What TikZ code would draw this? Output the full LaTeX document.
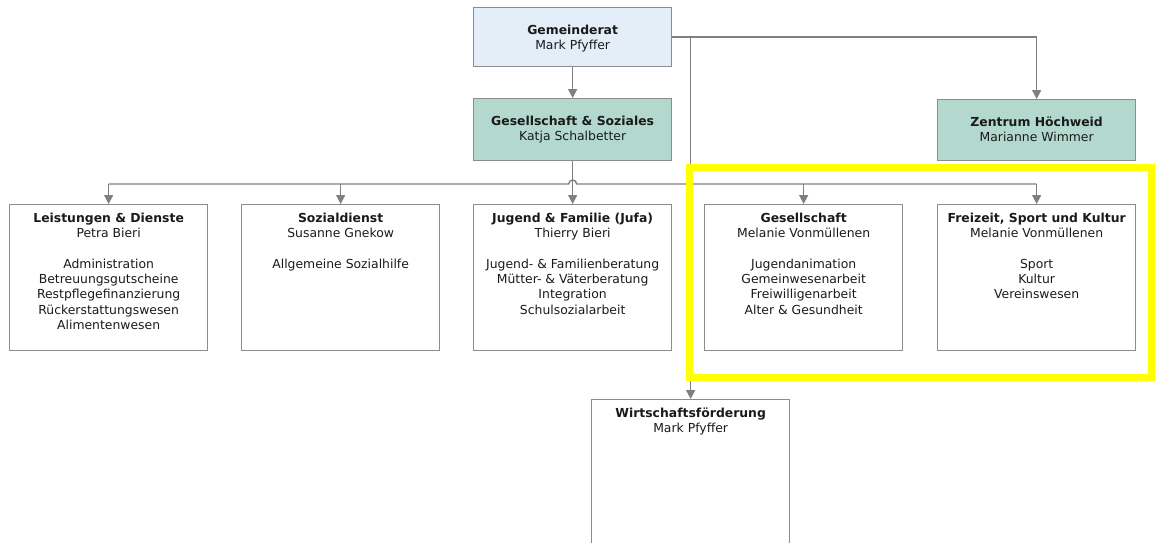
\documentclass[tikz,border=0pt]{standalone}
\usepackage{fontspec}
\setmainfont{DejaVu Sans}
\usetikzlibrary{arrows.meta}
\definecolor{lineg}{HTML}{808080}
\definecolor{boxg}{HTML}{8C8C8C}
\definecolor{bluef}{HTML}{E3EEF9}
\definecolor{tealf}{HTML}{B3D9CF}
\definecolor{txtc}{HTML}{1A1A1A}
\definecolor{hl}{HTML}{FFFF00}
\tikzset{
  box/.style={draw=boxg, line width=1.3pt, rectangle, inner sep=0pt, anchor=north west},
  bigbox/.style={box, minimum width=198pt, minimum height=146pt},
  topbox/.style={box, minimum width=198pt, minimum height=60pt},
  txt/.style={anchor=north, inner sep=0pt, align=center, text=txtc,
    font=\fontsize{12.4}{15.3}\selectfont},
  conn/.style={draw=lineg, line width=1.4pt},
  arr/.style={conn, -{Triangle[width=9pt,length=9pt]}},
}
\newcommand{\fs}{\rule{0pt}{10pt}}
\begin{document}
\begin{tikzpicture}[x=1pt,y=-1pt]
\useasboundingbox (0,0) rectangle (1155,542);
\clip (0,0) rectangle (1155,542);
% top boxes
\node[topbox, fill=bluef, minimum height=59pt] (gr) at (473,7) {};
\node[topbox, fill=tealf, minimum height=62pt] (gs) at (473,98) {};
\node[topbox, fill=tealf, minimum height=61pt] (zh) at (937,99) {};
% lower boxes
\node[bigbox] (ld) at (9,204) {};
\node[bigbox] (sd) at (241,204) {};
\node[bigbox] (jf) at (473,204) {};
\node[bigbox] (ge) at (704,204) {};
\node[bigbox] (fz) at (937,204) {};
\node[box, minimum width=198pt, minimum height=170pt] (wf) at (591,399) {};
% texts
\node[txt] (grt) at ([yshift=-17pt]gr.north) {\fs\textbf{Gemeinderat}\\Mark Pfyffer};
\node[txt] (gst) at ([yshift=-17pt]gs.north) {\fs\textbf{Gesellschaft \& Soziales}\\Katja Schalbetter};
\node[txt] (zht) at ([yshift=-17pt]zh.north) {\fs\textbf{Zentrum Höchweid}\\Marianne Wimmer};
\node[txt] (ldt) at ([yshift=-8pt]ld.north) {\fs\textbf{Leistungen \& Dienste}\\Petra Bieri\\[15.3pt]Administration\\Betreuungsgutscheine\\Restpflegefinanzierung\\Rückerstattungswesen\\Alimentenwesen};
\node[txt] (sdt) at ([yshift=-8pt]sd.north) {\fs\textbf{Sozialdienst}\\Susanne Gnekow\\[15.3pt]Allgemeine Sozialhilfe};
\node[txt] (jft) at ([yshift=-8pt]jf.north) {\fs\textbf{Jugend \& Familie (Jufa)}\\Thierry Bieri\\[15.3pt]Jugend- \& Familienberatung\\Mütter- \& Väterberatung\\Integration\\Schulsozialarbeit};
\node[txt] (get) at ([yshift=-8pt]ge.north) {\fs\textbf{Gesellschaft}\\Melanie Vonmüllenen\\[15.3pt]Jugendanimation\\Gemeinwesenarbeit\\Freiwilligenarbeit\\Alter \& Gesundheit};
\node[txt] (fzt) at ([yshift=-8pt]fz.north) {\fs\textbf{Freizeit, Sport und Kultur}\\Melanie Vonmüllenen\\[15.3pt]Sport\\Kultur\\Vereinswesen};
\node[txt] (wft) at ([yshift=-8pt]wf.north) {\fs\textbf{Wirtschaftsförderung}\\Mark Pfyffer};
% connectors
\coordinate (bus) at (0,184);
\coordinate (rail) at (0,37);
\draw[arr] (gr.south) -- (gs.north);
\draw[arr] (gr.east |- rail) -| (zh.north);
\draw[arr] (wf.north |- rail) -- (wf.north);
\draw[arr] (gs.south) -- (jf.north);
\draw[conn] (ld.north |- bus) -- ([xshift=-4pt]jf.north |- bus) arc (180:360:4) -- (fz.north |- bus);
\draw[arr] (ld.north |- bus) -- (ld.north);
\draw[arr] (sd.north |- bus) -- (sd.north);
\draw[arr] (ge.north |- bus) -- (ge.north);
\draw[arr] (fz.north |- bus) -- (fz.north);
% highlight
\draw[hl, line width=7pt] (689.5,167) rectangle (1151,377);
\end{tikzpicture}
\end{document}
